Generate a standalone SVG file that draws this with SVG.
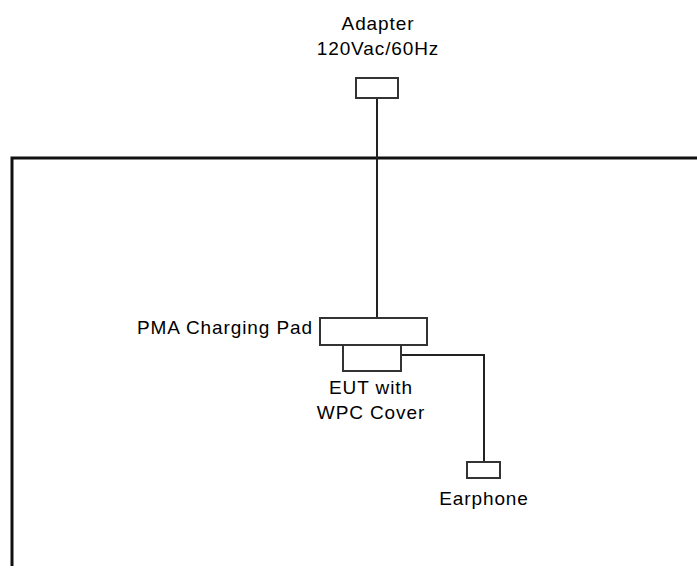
<svg xmlns="http://www.w3.org/2000/svg" width="697" height="568" viewBox="0 0 697 568">
<style>
text{font-family:"Liberation Sans",Arial,sans-serif;font-size:19px;letter-spacing:0.9px;fill:#000}
.box{fill:#fff;stroke:#333;stroke-width:2}
.wire{fill:none;stroke:#222;stroke-width:2}
</style>
<rect width="697" height="568" fill="#fff"/>
<g id="room"><path d="M12,566 V158 H700" fill="none" stroke="#111" stroke-width="3"/></g>
<g id="connectors">
<path class="wire" d="M377,97 V318"/>
<path class="wire" d="M401,355 H484 V462"/>
</g>
<g id="adapter">
<text x="378" y="30" text-anchor="middle">Adapter</text>
<text x="378" y="55" text-anchor="middle">120Vac/60Hz</text>
<rect class="box" x="356" y="78" width="42" height="20"/>
</g>
<g id="pad">
<rect class="box" x="320" y="318" width="107" height="27"/>
<text x="313" y="334" text-anchor="end">PMA Charging Pad</text>
</g>
<g id="eut">
<rect class="box" x="343" y="345" width="58" height="26"/>
<text x="371" y="394" text-anchor="middle">EUT with</text>
<text x="371" y="419" text-anchor="middle">WPC Cover</text>
</g>
<g id="earphone">
<rect class="box" x="467" y="462" width="33" height="16"/>
<text x="484" y="505" text-anchor="middle">Earphone</text>
</g>
</svg>
